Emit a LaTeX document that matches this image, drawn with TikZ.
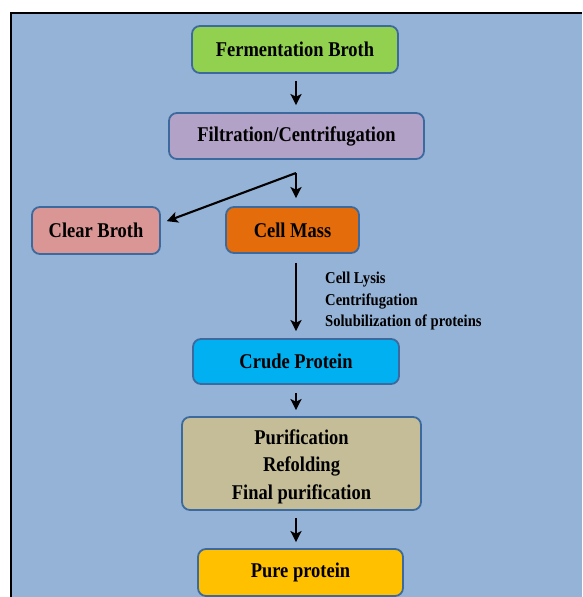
\documentclass[tikz,border=0pt]{standalone}
\usepackage{fontspec}
\setmainfont{Liberation Serif}[FakeStretch=0.88]
\usetikzlibrary{arrows.meta}
\definecolor{bgblue}{HTML}{95B3D7}
\definecolor{edgeblue}{HTML}{3C6A9E}
\definecolor{cgreen}{HTML}{92D050}
\definecolor{cpurple}{HTML}{B3A2C7}
\definecolor{cpink}{HTML}{D99694}
\definecolor{corange}{HTML}{E46C0A}
\definecolor{ccyan}{HTML}{00B0F0}
\definecolor{ctan}{HTML}{C4BD97}
\definecolor{cyellow}{HTML}{FFC000}
\tikzset{
  box/.style={draw=edgeblue, line width=1.8pt, rounded corners=8pt, align=center,
    font=\fontsize{21}{27.5}\selectfont\bfseries, inner sep=0pt},
  boxtext/.style={align=center, font=\fontsize{21}{27.5}\selectfont\bfseries, inner sep=0pt},
  arr/.style={draw=black, line width=2.1pt, -{Stealth[length=11pt,width=11pt,inset=2.5pt]}},
  side/.style={font=\fontsize{16.6}{21.5}\selectfont\bfseries, align=left, anchor=north west, inner sep=0pt}
}
\begin{document}
\begin{tikzpicture}[x=1pt,y=-1pt]
\useasboundingbox (0,0) rectangle (582,597);
\fill[white] (0,0) rectangle (582,597);
\fill[bgblue] (11,13) rectangle (582,597);
\draw[black, line width=2.2pt] (11,597) -- (11,13) -- (582,13);
\node[box, fill=cgreen, minimum width=206pt, minimum height=47pt] (fb) at (295,49.5) {Fermentation Broth};
\node[box, fill=cpurple, minimum width=255pt, minimum height=46pt] (fc) at (296.5,136) {Filtration/Centrifugation};
\node[box, fill=cpink, minimum width=128pt, minimum height=47pt] (cb) at (96,230.5) {Clear Broth};
\node[box, fill=corange, minimum width=133pt, minimum height=46pt] (cm) at (292.5,230) {Cell Mass};
\node[box, fill=ccyan, minimum width=206pt, minimum height=45pt] (cp) at (296,361.5) {Crude Protein};
\node[box, fill=ctan, minimum width=239pt, minimum height=93pt] (pu) at (301.5,463.5) {};
\node[boxtext] (putext) at (301.5,466.5) {Purification\\Refolding\\Final purification};
\node[box, fill=cyellow, minimum width=205pt, minimum height=47pt] (pp) at (300.5,572.5) {Pure protein};
\node[side] (lbl) at (325,272) {Cell Lysis\\Centrifugation\\Solubilization of proteins};
\coordinate (ax) at (296,0);
\coordinate (split) at (296,173);
\draw[arr, shorten <=7pt, shorten >=7pt] (fb.south -| ax) -- (fc.north -| ax);
\draw[arr, shorten >=8pt] (split) -- (cm.north -| ax);
\draw[arr, shorten >=1pt] (split) -- ([xshift=5pt,yshift=9pt]cb.east);
\draw[arr, shorten <=9pt, shorten >=7pt] (cm.south -| ax) -- (cp.north -| ax);
\draw[arr, shorten <=8pt, shorten >=6pt] (cp.south -| ax) -- (pu.north -| ax);
\draw[arr, shorten <=7pt, shorten >=6pt] (pu.south -| ax) -- (pp.north -| ax);
\end{tikzpicture}
\end{document}
